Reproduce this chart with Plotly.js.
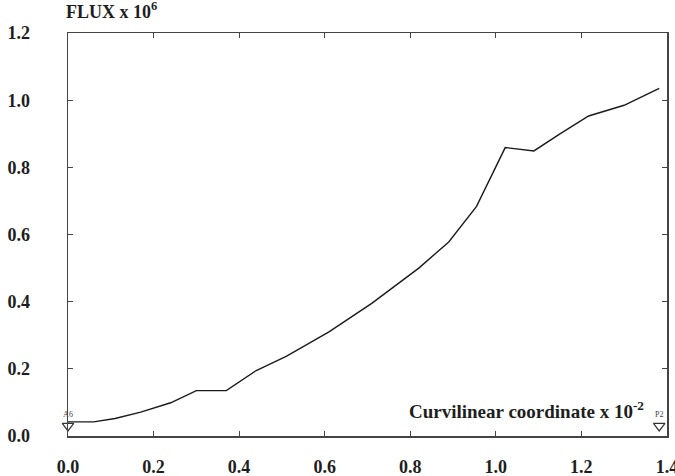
<!DOCTYPE html>
<html>
<head>
<meta charset="utf-8">
<script src="https://cdn.plot.ly/plotly-3.0.1.min.js"></script>
<style>
  html, body { margin: 0; padding: 0; background: #fff; }
  #chart { width: 675px; height: 476px; }
</style>
</head>
<body>
<div id="chart"></div>
<script>
// Flux along the curvilinear coordinate
var coord = [0, 0.06, 0.11, 0.17, 0.24, 0.30, 0.37, 0.44, 0.51, 0.61, 0.71, 0.82, 0.89, 0.955, 1.022, 1.089, 1.15, 1.217, 1.30, 1.382];
var flux  = [0.042, 0.042, 0.052, 0.071, 0.099, 0.135, 0.135, 0.195, 0.237, 0.31, 0.395, 0.50, 0.578, 0.684, 0.859, 0.849, 0.90, 0.953, 0.985, 1.035];

// End-point markers
var pointX = [0.0, 1.382];
var pointY = [0.03, 0.03];
var pointNames = ['A6', 'P2'];

var xTicks = [0, 0.2, 0.4, 0.6, 0.8, 1.0, 1.2, 1.4];
var xTickText = ['0.0', '0.2', '0.4', '0.6', '0.8', '1.0', '1.2', '1.4'];
var yTicks = [0, 0.2, 0.4, 0.6, 0.8, 1.0, 1.2];
var yTickText = ['0.0', '0.2', '0.4', '0.6', '0.8', '1.0', '1.2'];

var serif = 'Liberation Serif';
var ink = '#1e1e1e';

var traces = [
  {
    x: coord, y: flux, type: 'scatter', mode: 'lines',
    line: { color: '#1a1a1a', width: 1.4 },
    hoverinfo: 'skip'
  },
  {
    x: pointX, y: pointY, type: 'scatter', mode: 'markers+text',
    marker: { symbol: 'triangle-down-open', size: 10, color: '#333', line: { width: 1.2, color: '#333' } },
    text: pointNames, textposition: 'top center',
    textfont: { family: serif, size: 8, color: '#444' },
    cliponaxis: false, hoverinfo: 'skip'
  }
];

var axisCommon = {
  showgrid: false, zeroline: false,
  showline: true, linecolor: '#444', linewidth: 1.5,
  mirror: 'ticks', ticks: 'inside', ticklen: 5, tickwidth: 1.2, tickcolor: '#444',
  tickfont: { family: serif, size: 18, color: ink, weight: 'bold' }
};

var layout = {
  width: 675, height: 476,
  margin: { l: 67.5, r: 7.5, t: 33, b: 40 },
  paper_bgcolor: '#fff', plot_bgcolor: '#fff',
  showlegend: false,
  xaxis: Object.assign({}, axisCommon, {
    range: [0, 1.4002], tickvals: xTicks, ticktext: xTickText,
    ticklabelstandoff: 14, ticklabeloverflow: 'allow'
  }),
  yaxis: Object.assign({}, axisCommon, {
    range: [0, 1.2002], tickvals: yTicks, ticktext: yTickText,
    ticklabelstandoff: 33
  }),
  annotations: [
    {
      text: 'FLUX x 10<sup>6</sup>',
      xref: 'paper', yref: 'paper', x: -0.006, y: 1.0, yshift: 9,
      xanchor: 'left', yanchor: 'bottom', showarrow: false,
      font: { family: serif, size: 18, color: ink, weight: 'bold' }
    },
    {
      text: 'Curvilinear coordinate x 10<sup>-2</sup>',
      xref: 'paper', yref: 'paper', x: 0.965, y: 0.03,
      xanchor: 'right', yanchor: 'bottom', showarrow: false,
      font: { family: serif, size: 19, color: ink, weight: 'bold' }
    }
  ]
};

Plotly.newPlot('chart', traces, layout, { staticPlot: true, displayModeBar: false });
</script>
</body>
</html>
